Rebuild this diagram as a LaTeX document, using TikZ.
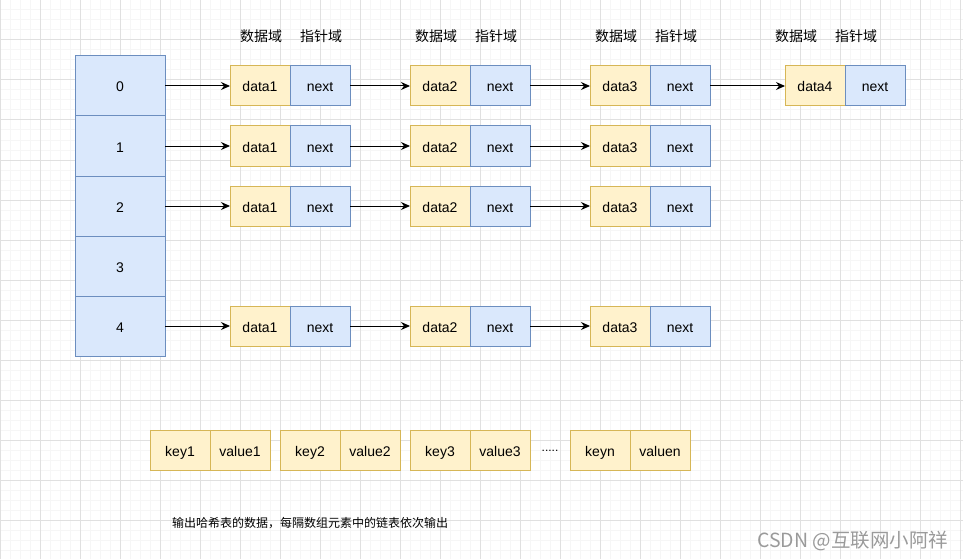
\documentclass[tikz,border=0pt]{standalone}
\usepackage{fontspec}
\setmainfont{Liberation Sans}
\newfontfamily\cjk{Noto Sans CJK SC}
\usetikzlibrary{arrows.meta}
\definecolor{cellblue}{HTML}{DAE8FC}
\definecolor{cellblueline}{HTML}{6C8EBF}
\definecolor{cellyellow}{HTML}{FFF2CC}
\definecolor{cellyellowline}{HTML}{D6B656}
\definecolor{gridminor}{HTML}{F6F6F6}
\definecolor{gridmajor}{HTML}{E0E0E0}
\definecolor{markgray}{HTML}{9A9A9A}
\tikzset{cell/.style = {draw, line width=1pt, minimum width=60pt, minimum height=40pt, inner sep=0pt, outer sep=0pt, anchor=west, text height=14pt, text depth=2pt}}
\tikzset{datacell/.style = {cell, fill=cellyellow, draw=cellyellowline}}
\tikzset{nextcell/.style = {cell, fill=cellblue, draw=cellblueline}}
\tikzset{slot/.style = {draw=cellblueline, fill=cellblue, line width=1pt, minimum width=90pt, minimum height=60pt, inner sep=0pt, outer sep=0pt, text height=14pt, text depth=2pt}}
\tikzset{link/.style = {-{Stealth[length=9pt,width=8pt]}, line width=1pt}}
\tikzset{header/.style = {font=\cjk\fontsize{14}{16}\selectfont}}

\begin{document}
\begin{tikzpicture}[x=1pt, y=-1pt, font=\fontsize{14}{16}\selectfont]
		\useasboundingbox (0,0) rectangle (963,559);
		% Grid
		\foreach \x in {0,10,...,960}
			\draw[gridminor, line width=1pt] (\x,0) -- (\x,559);
		\foreach \y in {0,10,...,550}
			\draw[gridminor, line width=1pt] (0,\y) -- (963,\y);
		\foreach \x in {0,40,...,960}
			\draw[gridmajor, line width=1pt] (\x,0) -- (\x,559);
		\foreach \y in {0,40,...,520}
			\draw[gridmajor, line width=1pt] (0,\y) -- (963,\y);
		
		% Array slots
		\foreach \i in {0, ..., 4}
			\node[slot] (arr\i) at (120, 86+60*\i) {\i};
		
		% Headers
		\foreach \c/\x in {1/261, 2/436, 3/616, 4/796}
		{
			\node[header] (hd\c) at (\x, 36) {数据域};
			\node[header] (hp\c) at (\x+60, 36) {指针域};
		}
		
		% Chains
		\foreach \r/\y in {0/86, 1/146, 2/206, 4/326}
		{
			\foreach \c/\x in {1/230, 2/410, 3/590}
			{
				\node[datacell] (d\r\c) at (\x, \y) {data\c};
				\node[nextcell] (n\r\c) at (d\r\c.east) {next};
			}
			% Links
			\draw[link] (arr\r.east) -- (d\r1.west);
			\draw[link] (n\r1.east) -- (d\r2.west);
			\draw[link] (n\r2.east) -- (d\r3.west);
		}
		%% Fourth node of the first chain
		\node[datacell] (d04) at (785, 86) {data4};
		\node[nextcell] (n04) at (d04.east) {next};
		\draw[link] (n03.east) -- (d04.west);
		
		% Output pairs
		\foreach \k/\x in {1/150, 2/280, 3/410, n/570}
		{
			\node[datacell] (key\k) at (\x, 450) {key\k};
			\node[datacell] (val\k) at (key\k.east) {value\k};
		}
		\node[font=\fontsize{12}{14}\selectfont] (dots) at (550, 451) {.....};
		
		% Note
		\node[anchor=west, inner sep=0pt, font=\cjk\fontsize{12}{14}\selectfont] (note) at (172, 523) {输出哈希表的数据，每隔数组元素中的链表依次输出};
		\node[anchor=west, inner sep=0pt, text=markgray, font=\cjk\fontsize{19.5}{22}\selectfont] (mark) at (757, 541) {CSDN @互联网小阿祥};
	\end{tikzpicture}
\end{document}
